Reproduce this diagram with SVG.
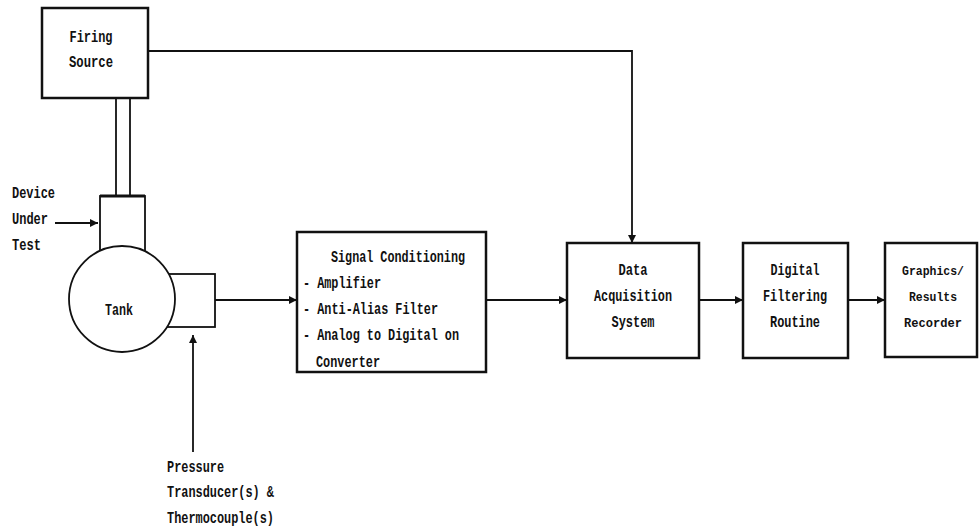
<svg xmlns="http://www.w3.org/2000/svg" width="979" height="531" viewBox="0 0 979 531">
<defs>
<style>
.box{fill:#fff;stroke:#111;stroke-width:2.5}
.thin{fill:#fff;stroke:#111;stroke-width:1.8}
.ln{fill:none;stroke:#111;stroke-width:1.8}
.t{font-family:"Liberation Mono",monospace;font-weight:bold;font-size:16px;fill:#111}
.s{font-size:13px}
.c{text-anchor:middle}
</style>
<marker id="ah" viewBox="0 0 10 10" refX="10" refY="5" markerWidth="10" markerHeight="8" markerUnits="userSpaceOnUse" orient="auto">
<path d="M0,0 L10,5 L0,10 z" fill="#111"/>
</marker>
</defs>
<rect width="979" height="531" fill="#fff"/>
<g id="connectors">
<path class="ln" d="M148,51 H632 V243" marker-end="url(#ah)"/>
<line class="ln" x1="116" y1="98" x2="116" y2="196"/>
<line class="ln" x1="130" y1="98" x2="130" y2="196"/>
<line class="ln" x1="55" y1="223" x2="98" y2="223" marker-end="url(#ah)"/>
<line class="ln" x1="193" y1="452" x2="193" y2="335" marker-end="url(#ah)"/>
<line class="ln" x1="215" y1="300" x2="297" y2="300" marker-end="url(#ah)"/>
<line class="ln" x1="486" y1="300" x2="567" y2="300" marker-end="url(#ah)"/>
<line class="ln" x1="699" y1="300" x2="743" y2="300" marker-end="url(#ah)"/>
<line class="ln" x1="848" y1="300" x2="885" y2="300" marker-end="url(#ah)"/>
</g>
<g id="firing-source">
<rect class="box" x="42" y="8" width="106" height="90"/>
<text class="t c" x="91" y="42" textLength="43" lengthAdjust="spacingAndGlyphs">Firing</text>
<text class="t c" x="91" y="67" textLength="44" lengthAdjust="spacingAndGlyphs">Source</text>
</g>
<g id="device-under-test">
<rect class="thin" x="100" y="196" width="45" height="64"/>
<line x1="100" y1="196" x2="145" y2="196" stroke="#111" stroke-width="3"/>
<text class="t" x="12" y="198" textLength="43" lengthAdjust="spacingAndGlyphs">Device</text>
<text class="t" x="12" y="224" textLength="36" lengthAdjust="spacingAndGlyphs">Under</text>
<text class="t" x="12" y="250" textLength="29" lengthAdjust="spacingAndGlyphs">Test</text>
</g>
<g id="transducer-port">
<rect class="thin" x="165" y="274" width="50" height="53"/>
</g>
<g id="tank">
<circle class="thin" cx="122" cy="299" r="53" stroke-width="2"/>
<text class="t c" x="119" y="315" textLength="28" lengthAdjust="spacingAndGlyphs">Tank</text>
</g>
<g id="pressure-label">
<text class="t" x="167" y="472" textLength="57" lengthAdjust="spacingAndGlyphs">Pressure</text>
<text class="t" x="167" y="497" textLength="107" lengthAdjust="spacingAndGlyphs">Transducer(s) &amp;</text>
<text class="t" x="167" y="523" textLength="107" lengthAdjust="spacingAndGlyphs">Thermocouple(s)</text>
</g>
<g id="signal-conditioning">
<rect class="box" x="297" y="232" width="189" height="140"/>
<text class="t c" x="398" y="262" textLength="134" lengthAdjust="spacingAndGlyphs">Signal Conditioning</text>
<text class="t" x="303" y="288" textLength="78" lengthAdjust="spacingAndGlyphs">- Amplifier</text>
<text class="t" x="303" y="314" textLength="135" lengthAdjust="spacingAndGlyphs">- Anti-Alias Filter</text>
<text class="t" x="303" y="340" textLength="156" lengthAdjust="spacingAndGlyphs">- Analog to Digital on</text>
<text class="t" x="316" y="367" textLength="64" lengthAdjust="spacingAndGlyphs">Converter</text>
</g>
<g id="data-acquisition">
<rect class="box" x="567" y="243" width="132" height="115"/>
<text class="t c" x="633" y="275" textLength="29" lengthAdjust="spacingAndGlyphs">Data</text>
<text class="t c" x="633" y="301" textLength="78" lengthAdjust="spacingAndGlyphs">Acquisition</text>
<text class="t c" x="633" y="327" textLength="43" lengthAdjust="spacingAndGlyphs">System</text>
</g>
<g id="digital-filtering">
<rect class="box" x="743" y="243" width="105" height="115"/>
<text class="t c" x="795" y="275" textLength="49" lengthAdjust="spacingAndGlyphs">Digital</text>
<text class="t c" x="795" y="301" textLength="64" lengthAdjust="spacingAndGlyphs">Filtering</text>
<text class="t c" x="795" y="327" textLength="50" lengthAdjust="spacingAndGlyphs">Routine</text>
</g>
<g id="graphics-recorder">
<rect class="box" x="885" y="243" width="92" height="114"/>
<text class="t s c" x="933" y="275" textLength="62" lengthAdjust="spacingAndGlyphs">Graphics/</text>
<text class="t s c" x="933" y="301" textLength="48" lengthAdjust="spacingAndGlyphs">Results</text>
<text class="t s c" x="933" y="327" textLength="58" lengthAdjust="spacingAndGlyphs">Recorder</text>
</g>
</svg>
